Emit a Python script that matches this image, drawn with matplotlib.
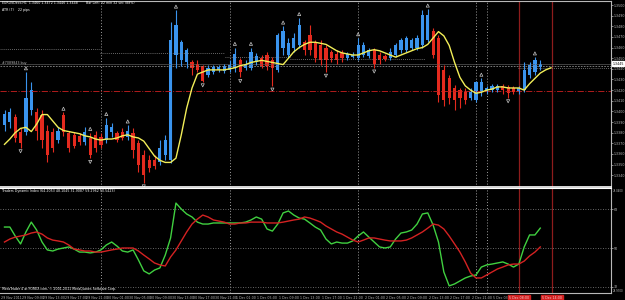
import matplotlib
matplotlib.use("Agg")
import matplotlib.pyplot as plt
import matplotlib.transforms as mtransforms
import numpy as np

# EURUSD H1 bars, 29 Nov 2011 06:00 .. 5 Dec 2011 12:00
opens = [1.3387, 1.3390, 1.3395, 1.3381, 1.3381, 1.3401, 1.3399, 1.3397, 1.3382, 1.3381,
         1.3373, 1.3397, 1.3380, 1.3378, 1.3377, 1.3371, 1.3375, 1.3378, 1.3376, 1.3373,
         1.3381, 1.3380, 1.3381, 1.3376, 1.3380, 1.3370, 1.3359, 1.3354, 1.3354, 1.3352,
         1.3359, 1.3354, 1.3453, 1.3448, 1.3446, 1.3446, 1.3445, 1.3443, 1.3434, 1.3437,
         1.3439, 1.3438, 1.3439, 1.3441, 1.3448, 1.3441, 1.3441, 1.3446, 1.3450, 1.3453,
         1.3448, 1.3439, 1.3460, 1.3453, 1.3460, 1.3462, 1.3465, 1.3472, 1.3465, 1.3462,
         1.3460, 1.3456, 1.3454, 1.3455, 1.3450, 1.3451, 1.3450, 1.3453, 1.3452, 1.3458,
         1.3453, 1.3452, 1.3450, 1.3453, 1.3458, 1.3458, 1.3460, 1.3460, 1.3462, 1.3467,
         1.3476, 1.3469, 1.3439, 1.3431, 1.3422, 1.3420, 1.3418, 1.3413, 1.3411, 1.3418,
         1.3418, 1.3420, 1.3420, 1.3424, 1.3423, 1.3422, 1.3418, 1.3420, 1.3434, 1.3437,
         1.3442]
highs = [1.3401, 1.3403, 1.3398, 1.3384, 1.3437, 1.3428, 1.3403, 1.3401, 1.3387, 1.3384,
         1.3385, 1.3399, 1.3382, 1.3381, 1.3380, 1.3385, 1.3380, 1.3382, 1.3380, 1.3394,
         1.3389, 1.3382, 1.3384, 1.3387, 1.3384, 1.3373, 1.3364, 1.3359, 1.3359, 1.3373,
         1.3378, 1.3484, 1.3495, 1.3467, 1.3460, 1.3448, 1.3448, 1.3444, 1.3444, 1.3444,
         1.3444, 1.3445, 1.3448, 1.3460, 1.3450, 1.3448, 1.3460, 1.3455, 1.3453, 1.3456,
         1.3451, 1.3474, 1.3480, 1.3469, 1.3474, 1.3488, 1.3467, 1.3481, 1.3467, 1.3467,
         1.3462, 1.3458, 1.3458, 1.3458, 1.3456, 1.3456, 1.3469, 1.3465, 1.3460, 1.3460,
         1.3456, 1.3454, 1.3460, 1.3464, 1.3469, 1.3471, 1.3469, 1.3472, 1.3495, 1.3496,
         1.3478, 1.3472, 1.3444, 1.3434, 1.3425, 1.3422, 1.3422, 1.3422, 1.3429, 1.3431,
         1.3424, 1.3426, 1.3426, 1.3426, 1.3425, 1.3424, 1.3424, 1.3446, 1.3446, 1.3451,
         1.3448]
lows = [1.3382, 1.3384, 1.3371, 1.3366, 1.3378, 1.3397, 1.3373, 1.3366, 1.3352, 1.3362,
        1.3370, 1.3377, 1.3362, 1.3366, 1.3368, 1.3368, 1.3356, 1.3362, 1.3366, 1.3370,
        1.3376, 1.3371, 1.3373, 1.3373, 1.3356, 1.3343, 1.3333, 1.3343, 1.3346, 1.3350,
        1.3354, 1.3351, 1.3441, 1.3443, 1.3441, 1.3434, 1.3437, 1.3428, 1.3432, 1.3435,
        1.3437, 1.3436, 1.3437, 1.3437, 1.3432, 1.3439, 1.3439, 1.3444, 1.3441, 1.3439,
        1.3424, 1.3437, 1.3453, 1.3450, 1.3456, 1.3460, 1.3453, 1.3453, 1.3446, 1.3444,
        1.3437, 1.3446, 1.3445, 1.3446, 1.3448, 1.3450, 1.3448, 1.3451, 1.3450, 1.3441,
        1.3445, 1.3447, 1.3448, 1.3451, 1.3455, 1.3456, 1.3458, 1.3458, 1.3460, 1.3465,
        1.3450, 1.3409, 1.3405, 1.3407, 1.3401, 1.3403, 1.3407, 1.3411, 1.3409, 1.3414,
        1.3416, 1.3418, 1.3418, 1.3416, 1.3413, 1.3416, 1.3416, 1.3418, 1.3431, 1.3434,
        1.3439]
closes = [1.3398, 1.3399, 1.3375, 1.3370, 1.3413, 1.3420, 1.3382, 1.3373, 1.3359, 1.3366,
          1.3382, 1.3381, 1.3366, 1.3367, 1.3371, 1.3381, 1.3359, 1.3366, 1.3368, 1.3387,
          1.3385, 1.3373, 1.3375, 1.3382, 1.3364, 1.3350, 1.3340, 1.3347, 1.3349, 1.3366,
          1.3373, 1.3467, 1.3481, 1.3465, 1.3458, 1.3441, 1.3439, 1.3429, 1.3441, 1.3442,
          1.3442, 1.3443, 1.3444, 1.3454, 1.3437, 1.3445, 1.3456, 1.3452, 1.3443, 1.3443,
          1.3441, 1.3472, 1.3476, 1.3464, 1.3469, 1.3481, 1.3458, 1.3458, 1.3450, 1.3448,
          1.3448, 1.3450, 1.3448, 1.3450, 1.3454, 1.3453, 1.3462, 1.3462, 1.3458, 1.3445,
          1.3448, 1.3449, 1.3456, 1.3462, 1.3467, 1.3469, 1.3467, 1.3469, 1.3491, 1.3491,
          1.3453, 1.3415, 1.3411, 1.3413, 1.3411, 1.3413, 1.3411, 1.3418, 1.3428, 1.3428,
          1.3422, 1.3424, 1.3424, 1.3420, 1.3417, 1.3418, 1.3422, 1.3439, 1.3444, 1.3448,
          1.3445]

# yellow smoothed line (runs two bars past the last candle)
ma_line = [1.3369, 1.3374, 1.3380, 1.3384, 1.3385, 1.3381, 1.3388, 1.3397, 1.3397, 1.3391,
           1.3385, 1.3382, 1.3381, 1.3380, 1.3379, 1.3377, 1.3376, 1.3374, 1.3373, 1.3374,
           1.3374, 1.3375, 1.3377, 1.3378, 1.3376, 1.3375, 1.3372, 1.3365, 1.3358, 1.3354,
           1.3352, 1.3352, 1.3356, 1.3378, 1.3403, 1.3422, 1.3435, 1.3437, 1.3439, 1.3439,
           1.3439, 1.3439, 1.3440, 1.3441, 1.3443, 1.3444, 1.3446, 1.3447, 1.3448, 1.3447,
           1.3446, 1.3445, 1.3444, 1.3450, 1.3456, 1.3460, 1.3463, 1.3465, 1.3465, 1.3464,
           1.3463, 1.3460, 1.3457, 1.3455, 1.3454, 1.3453, 1.3453, 1.3455, 1.3457, 1.3458,
           1.3457, 1.3455, 1.3453, 1.3451, 1.3453, 1.3455, 1.3457, 1.3459, 1.3460, 1.3463,
           1.3469, 1.3475, 1.3471, 1.3462, 1.3446, 1.3432, 1.3424, 1.3420, 1.3417, 1.3418,
           1.3420, 1.3421, 1.3423, 1.3423, 1.3422, 1.3422, 1.3422, 1.3420, 1.3426, 1.3431,
           1.3436, 1.3439, 1.3441]

fractal_up = [4, 11, 16, 19, 23, 32, 43, 46, 52, 55, 66, 79, 89, 99]
fractal_down = [3, 16, 26, 37, 44, 50, 60, 69, 94]

# Traders Dynamic Index
tdi_green = [59.8, 59.8, 55.6, 51.9, 57.5, 62.1, 58.4, 52.8, 49.1, 48.6,
             49.5, 50.0, 50.5, 49.5, 48.1, 48.1, 47.7, 48.1, 49.1, 51.4,
             52.8, 50.9, 48.6, 48.1, 49.1, 44.4, 39.3, 37.9, 39.7, 40.7,
             46.7, 54.7, 71.0, 68.2, 65.9, 64.5, 62.1, 61.2, 61.2, 61.7,
             61.7, 61.7, 61.7, 61.7, 61.7, 62.1, 63.1, 64.5, 63.5, 58.9,
             57.9, 61.2, 66.4, 67.3, 65.4, 64.0, 63.5, 61.7, 59.8, 58.4,
             54.2, 51.9, 52.8, 52.3, 52.3, 53.3, 55.6, 57.5, 55.1, 52.8,
             50.5, 50.0, 50.5, 54.2, 57.0, 57.5, 58.4, 61.2, 65.9, 66.4,
             60.7, 52.8, 38.8, 32.3, 33.2, 34.6, 36.0, 36.9, 37.4, 41.1,
             42.1, 42.5, 43.0, 43.5, 42.5, 41.1, 42.5, 50.5, 56.1, 56.1,
             59.3]
tdi_red = [52.8, 54.2, 55.1, 55.6, 56.1, 57.0, 57.5, 56.5, 54.7, 53.7,
           53.3, 52.8, 51.4, 49.5, 49.1, 48.6, 48.6, 48.1, 48.1, 48.6,
           49.1, 49.5, 50.0, 50.0, 50.0, 48.6, 46.7, 44.9, 43.0, 42.1,
           41.6, 45.8, 49.1, 53.3, 57.5, 61.2, 63.5, 65.4, 64.5, 63.1,
           62.6, 62.1, 61.2, 61.2, 61.7, 61.7, 62.1, 62.1, 62.1, 61.7,
           61.7, 61.7, 62.1, 62.6, 63.1, 63.5, 64.5, 64.0, 63.1, 62.1,
           60.3, 58.9, 57.5, 56.5, 55.1, 53.7, 52.8, 53.7, 54.7, 54.7,
           54.2, 53.7, 53.3, 53.3, 53.3, 53.7, 54.7, 56.1, 57.5, 59.3,
           61.2, 60.7, 58.9, 55.6, 51.9, 48.1, 43.5, 38.3, 36.0, 36.0,
           37.4, 38.8, 40.2, 41.1, 42.1, 42.5, 42.5, 43.9, 46.3, 48.1,
           50.5]
tdi_levels = [68, 50, 32]

# time axis
time_labels = ["29 Nov 2011", "29 Nov 09:00", "29 Nov 13:00", "29 Nov 17:00", "29 Nov 21:00",
               "30 Nov 01:00", "30 Nov 05:00", "30 Nov 09:00", "30 Nov 13:00", "30 Nov 17:00",
               "30 Nov 21:00", "1 Dec 01:00", "1 Dec 05:00", "1 Dec 09:00", "1 Dec 13:00",
               "1 Dec 17:00", "1 Dec 21:00", "2 Dec 01:00", "2 Dec 05:00", "2 Dec 09:00",
               "2 Dec 13:00", "2 Dec 17:00", "2 Dec 21:00", "5 Dec 03:00"]
label_bars = [-0.8] + list(range(3, 92, 4))
separators = [18, 42, 66, 88, 90]
red_vlines = [96, 102.2]
red_vline_labels = ["5 Dec 08:00", "5 Dec 14:00"]

# horizontal levels on the price chart
bid = 1.3445
order_price = 1.3443
order_label = "#7089843 buy"
stop_price = 1.3419
step_edges = [(-1, 17.8), (17.8, 41.1), (41.1, 53.3), (53.3, 78.5), (95.8, 114)]
step_levels = [1.3459, 1.3455, 1.3451, 1.3449, 1.3441]

price_ticks = np.round(np.arange(1.3340, 1.35005, 0.0010), 4)

o = np.array(opens)
h = np.array(highs)
l = np.array(lows)
c = np.array(closes)
bars = np.arange(len(o))
bull = c >= o
colors = np.where(bull, '#3a94ee', '#e42a1e')

fig = plt.figure(figsize=(6.25, 3.0), dpi=100, facecolor='black')
ax1 = fig.add_axes([0, 0.3767, 0.9776, 0.6200])
ax2 = fig.add_axes([0, 0.0233, 0.9776, 0.3500])

grey = '#b8b8b8'
small = 2.3
for ax in (ax1, ax2):
    ax.set_facecolor('black')
    ax.set_xlim(-0.84, 113.2)
    ax.spines['left'].set_visible(False)
    for s in ('top', 'bottom', 'right'):
        ax.spines[s].set_color(grey)
        ax.spines[s].set_linewidth(0.8)
    ax.yaxis.tick_right()
    ax.tick_params(axis='y', colors=grey, labelsize=small, length=1.5, width=0.5, pad=0.4)
    ax.tick_params(axis='x', bottom=False, labelbottom=False)
    for xs in separators:
        ax.axvline(xs, color='#a0a0a0', lw=0.7, ls=(0, (1, 2)))
    for xs in red_vlines:
        ax.axvline(xs, color='#8e1c1c', lw=0.9)

ax1.spines['bottom'].set_color('white')
ax1.spines['bottom'].set_linewidth(1.2)
ax2.spines['top'].set_color('white')

# price panel
ax1.set_ylim(1.33289, 1.35038)
ax1.set_yticks(price_ticks)
ax1.set_yticklabels([f"{p:.4f}" for p in price_ticks])

for (x0, x1), lev in zip(step_edges, step_levels):
    ax1.hlines(lev, x0, x1, color='#8a8a8a', lw=0.6, ls=(0, (1, 1.5)))
ax1.axhline(order_price, color='#8a8a8a', lw=0.6, ls=(0, (2, 1.5)))
ax1.axhline(bid, color='#5a5a5a', lw=0.5)
ax1.axhline(stop_price, color='#b01c1c', lw=0.7, ls='-.')
ax1.text(-0.5, order_price + 0.00005, order_label, color=grey, fontsize=small, va='bottom')

ax1.vlines(bars, l, h, colors=colors, lw=0.8)
ax1.bar(bars, np.maximum(np.abs(c - o), 0.00004), bottom=np.minimum(o, c),
        width=0.6, color=colors, linewidth=0)

ax1.plot(np.arange(len(ma_line)), ma_line, color='#f2ee58', lw=1.0)

ax1.scatter(fractal_up, h[fractal_up] + 0.00035, marker='^', s=5,
            facecolors='none', edgecolors='#c8c8c8', linewidths=0.5)
ax1.scatter(fractal_down, l[fractal_down] - 0.00035, marker='v', s=5,
            facecolors='none', edgecolors='#c8c8c8', linewidths=0.5)

ax1.annotate(f"{bid:.4f}", xy=(1.0, bid), xycoords=('axes fraction', 'data'),
             xytext=(1, 0), textcoords='offset points', fontsize=small, color='black',
             va='center', ha='left',
             bbox=dict(boxstyle='square,pad=0.15', fc='white', ec='white'))

# indicator panel
ax2.set_ylim(28.97, 78.04)
ax2.set_yticks(tdi_levels)
ax2.set_yticklabels([str(v) for v in tdi_levels])
for lev in tdi_levels:
    ax2.axhline(lev, color='#8a8a8a', lw=0.6, ls=(0, (1, 2)))
ax2.plot(np.arange(len(tdi_green)), tdi_green, color='#40d040', lw=1.0)
ax2.plot(np.arange(len(tdi_red)), tdi_red, color='#d42222', lw=1.0)
lo, hi = ax2.get_ylim()
ax2.text(1.003, 0.995, f"{hi:.4f}", transform=ax2.transAxes, color=grey, fontsize=1.9, va='top')
ax2.text(1.003, 0.0, f"{lo:.4f}", transform=ax2.transAxes, color=grey, fontsize=1.9, va='bottom')

trans = mtransforms.blended_transform_factory(ax2.transData, ax2.transAxes)
for xb, lab in zip(label_bars, time_labels):
    ax2.text(xb + 0.2, -0.03, lab, transform=trans, color=grey, fontsize=small,
             ha='left', va='top')
for xb, lab in zip(red_vlines, red_vline_labels):
    ax2.text(xb, -0.03, lab, transform=trans, color='#f4d0d0', fontsize=small,
             ha='center', va='top', zorder=5,
             bbox=dict(boxstyle='square,pad=0.35', fc='#d42020', ec='#d42020'))

# texts
fig.text(0.004, 0.995, "EURUSDeco,H1  1.3460 1.3472 1.3446 1.3448", color='white',
         fontsize=small, va='top')
fig.text(0.138, 0.995, "Bar Left: 32 min 32 sec (88%)", color='white', fontsize=small, va='top')
fig.text(0.004, 0.972, "ATR (7)    22 pips", color='white', fontsize=small, va='top')
fig.text(0.004, 0.370, "Traders Dynamic Index (64.2053 48.1045 31.9087 59.2962 50.5423)",
         color='white', fontsize=small, va='top')
fig.text(0.003, 0.030, "MetaTrader 4 at FOREX.com, \u00a9 2001-2011 MetaQuotes Software Corp.",
         color='white', fontsize=small, va='bottom')

fig.savefig("out.png", dpi=100, facecolor='black')
